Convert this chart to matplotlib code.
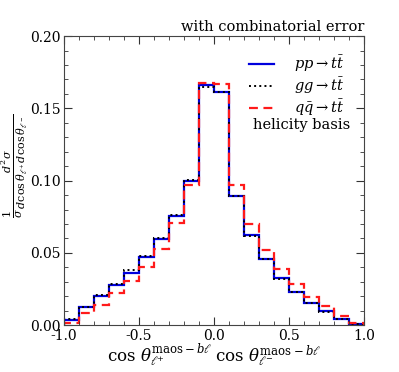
import numpy as np
import matplotlib
matplotlib.use("Agg")
import matplotlib.pyplot as plt
from matplotlib.ticker import MultipleLocator

edges = np.linspace(-1.0, 1.0, 21)
pp = [0.0035, 0.0122, 0.0200, 0.0280, 0.0364, 0.0468, 0.0595, 0.0754, 0.0999, 0.1659,
      0.1615, 0.0893, 0.0623, 0.0461, 0.0328, 0.0231, 0.0155, 0.0097, 0.0044, 0.0007]
gg = [0.0040, 0.0127, 0.0208, 0.0288, 0.0380, 0.0478, 0.0600, 0.0760, 0.1001, 0.1645,
      0.1610, 0.0893, 0.0620, 0.0459, 0.0320, 0.0229, 0.0150, 0.0090, 0.0042, 0.0007]
qq = [0.0018, 0.0081, 0.0138, 0.0219, 0.0305, 0.0404, 0.0528, 0.0708, 0.0967, 0.1677,
      0.1666, 0.0973, 0.0697, 0.0521, 0.0388, 0.0284, 0.0196, 0.0131, 0.0065, 0.0016]
labels = [r"$pp \rightarrow t\bar{t}$", r"$gg \rightarrow t\bar{t}$", r"$q\bar{q} \rightarrow t\bar{t}$"]

plt.rcParams['font.family'] = ['DejaVu Serif']
plt.rcParams['mathtext.fontset'] = 'dejavuserif'

fig = plt.figure(figsize=(3.99, 3.72), dpi=100)
ax = fig.add_axes([0.160, 0.126, 0.752, 0.777])

ax.stairs(pp, edges, color='#0000dd', lw=1.6, ls='-', label=labels[0])
ax.stairs(gg, edges, color='black', lw=1.4, ls=':', label=labels[1])
ax.stairs(qq, edges, color='#ff1a1a', lw=1.6, ls=(0, (4, 2.5)), label=labels[2])

ax.set_xlim(-1, 1)
ax.set_ylim(0, 0.20)
ax.xaxis.set_major_locator(MultipleLocator(0.5))
ax.xaxis.set_minor_locator(MultipleLocator(0.1))
ax.yaxis.set_major_locator(MultipleLocator(0.05))
ax.yaxis.set_minor_locator(MultipleLocator(0.01))
ax.xaxis.set_major_formatter(matplotlib.ticker.FormatStrFormatter('%.1f'))
ax.yaxis.set_major_formatter(matplotlib.ticker.FormatStrFormatter('%.2f'))
ax.tick_params(which='both', direction='in', top=True, right=True, labelsize=10,
               colors='#333333', labelcolor='black', pad=2.5)
ax.tick_params(which='major', length=6)
ax.tick_params(which='minor', length=3)
for s in ax.spines.values():
    s.set_color('#444444')

ax.set_xlabel(r"$\cos\,\theta_{\ell^{+}}^{\mathrm{maos}-b\ell}\;\cos\,\theta_{\ell^{-}}^{\mathrm{maos}-b\ell}$",
              fontsize=12, labelpad=0)
ax.set_ylabel(r"$\frac{1}{\sigma}\frac{d^2\sigma}{d\cos\theta_{\ell^+}d\cos\theta_{\ell^-}}$",
              fontsize=11.5)
ax.yaxis.set_label_coords(-0.112, 0.55)
ax.set_title("with combinatorial error", loc='right', fontsize=10.5, pad=4)

leg = ax.legend(loc='upper right', frameon=False, fontsize=10.5, handlelength=1.7,
                handletextpad=1.4, labelspacing=0.1,
                bbox_to_anchor=(0.98, 0.985))
ax.text(0.955, 0.692, "helicity basis", transform=ax.transAxes, ha='right', va='center', fontsize=10.5)

fig.savefig("out.png", dpi=100)
